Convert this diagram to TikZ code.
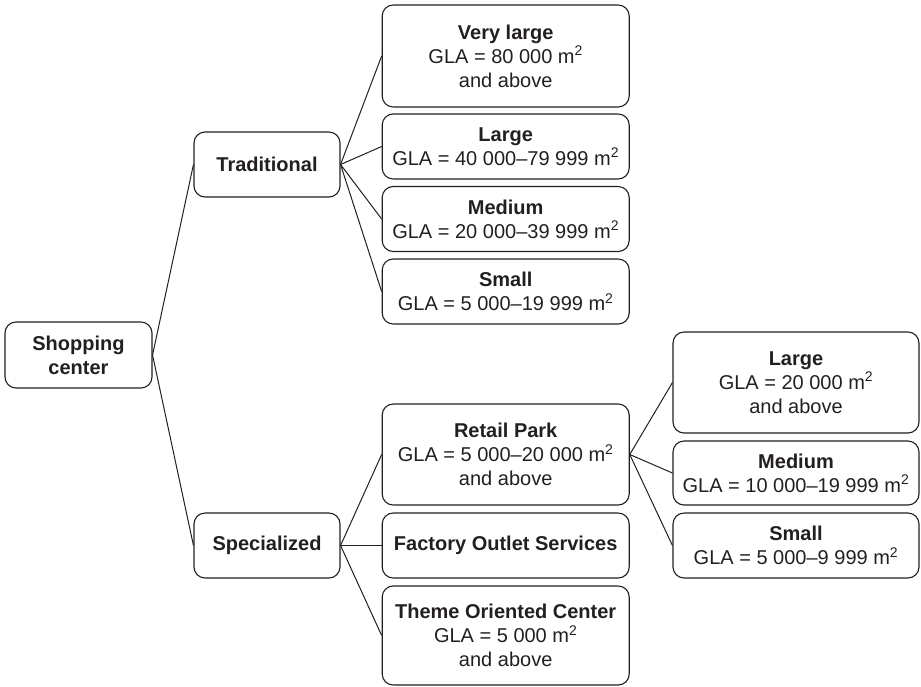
\documentclass[tikz,border=0pt]{standalone}
\usepackage{fontspec}
\setmainfont{Liberation Sans}
\definecolor{ink}{HTML}{231F20}
\begin{document}
\begin{tikzpicture}[x=1pt,y=-1pt,
  box/.style={draw=ink, text=ink, rounded corners=11pt, line width=1.1pt, align=center,
    inner sep=0pt, font=\fontsize{20}{24}\selectfont},
  wide/.style={box, minimum width=247pt},
  small/.style={box, minimum width=146pt, minimum height=65pt},
  link/.style={draw=ink, line width=1pt}]
\useasboundingbox (0,0) rectangle (921,686);
\node[small, minimum width=147pt, minimum height=66pt] (sc) at (78.5,355) {\textbf{Shopping}\\\textbf{center}};
\node[small] (trad) at (267,164.5) {\textbf{Traditional}};
\node[small] (spec) at (267,545.5) {\textbf{Specialized}};
\node[wide, minimum height=102pt] (vl) at (505.7,56) {\textbf{Very large}\\GLA = 80 000 m\textsuperscript{2}\\and above};
\node[wide, minimum height=65pt] (lg) at (505.7,146.5) {\textbf{Large}\\GLA = 40 000–79 999 m\textsuperscript{2}};
\node[wide, minimum height=65pt] (md) at (505.7,219) {\textbf{Medium}\\GLA = 20 000–39 999 m\textsuperscript{2}};
\node[wide, minimum height=65pt] (sm) at (505.7,291.5) {\textbf{Small}\\GLA = 5 000–19 999 m\textsuperscript{2}};
\node[wide, minimum height=101pt] (rp) at (505.7,454.5) {\textbf{Retail Park}\\GLA = 5 000–20 000 m\textsuperscript{2}\\and above};
\node[wide, minimum height=65pt] (fo) at (505.7,545.5) {\textbf{Factory Outlet Services}};
\node[wide, minimum height=99pt] (to) at (505.7,635.5) {\textbf{Theme Oriented Center}\\GLA = 5 000 m\textsuperscript{2}\\and above};
\node[wide, minimum width=246pt, minimum height=101pt] (rl) at (796,382.5) {\textbf{Large}\\GLA = 20 000 m\textsuperscript{2}\\and above};
\node[wide, minimum width=246pt, minimum height=64pt] (rm) at (796,473) {\textbf{Medium}\\GLA = 10 000–19 999 m\textsuperscript{2}};
\node[wide, minimum width=246pt, minimum height=65pt] (rs) at (796,545.5) {\textbf{Small}\\GLA = 5 000–9 999 m\textsuperscript{2}};
\path[link] (sc.east) -- (trad.west);
\path[link] (sc.east) -- (spec.west);
\foreach \c in {vl,lg,md,sm} \path[link] (trad.east) -- (\c.west);
\foreach \c in {rp,fo,to} \path[link] (spec.east) -- (\c.west);
\foreach \c in {rl,rm,rs} \path[link] (rp.east) -- (\c.west);
\end{tikzpicture}
\end{document}
